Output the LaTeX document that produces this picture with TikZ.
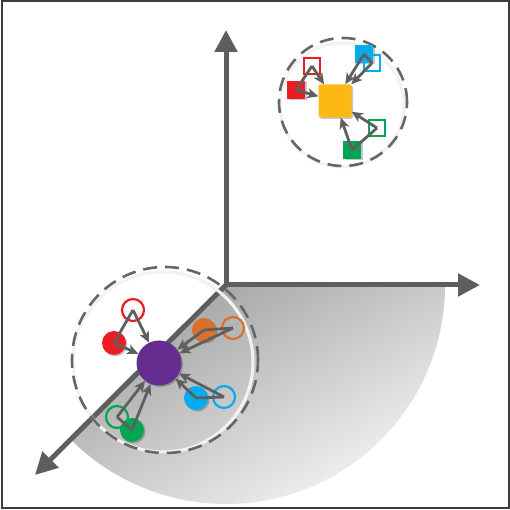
\documentclass[tikz,border=0pt]{standalone}
\usetikzlibrary{arrows.meta,shadows}
\definecolor{axisgray}{HTML}{5E5E5E}
\definecolor{arrgray}{HTML}{5F5F5F}
\definecolor{dashgray}{HTML}{666666}
\definecolor{cred}{HTML}{ED1C24}
\definecolor{cblue}{HTML}{00AEEF}
\definecolor{cgreen}{HTML}{00A651}
\definecolor{corange}{HTML}{D9712B}
\definecolor{cpurple}{HTML}{662D91}
\definecolor{cyellow}{HTML}{FDB913}
\definecolor{framegray}{HTML}{3C3C3C}
\begin{document}
\begin{tikzpicture}[x=1pt,y=1pt,
  axis/.style={line width=5pt, draw=axisgray, -{Triangle[length=22pt,width=22pt]}},
  arr/.style={line width=2.8pt, draw=arrgray, -{Stealth[length=11pt,width=10pt,inset=3pt]}},
  link/.style={line width=2.8pt, draw=arrgray},
  dashcirc/.style={line width=2.6pt, draw=dashgray, dash pattern=on 14pt off 8pt},
  halo/.style={line width=3pt, draw=black!5},
  shd/.style={drop shadow={shadow xshift=1.5pt,shadow yshift=-1.5pt,opacity=0.22,fill=black}},
  fc/.style={circle, inner sep=0pt, minimum size=24pt, shd},
  hc/.style={circle, inner sep=0pt, minimum size=22pt, line width=2.2pt},
  fs/.style={rectangle, inner sep=0pt, minimum size=18pt, shd},
  hs/.style={rectangle, inner sep=0pt, minimum size=16.5pt, line width=2.2pt},
]
\useasboundingbox (0,0) rectangle (510,510);
\fill[white] (0,0) rectangle (510,510);
% shaded sector
\coordinate (O) at (226,225);
\shade[top color=black!37, bottom color=black!4, shading angle=30]
  (O) -- ++(219,0) arc[start angle=0,end angle=-135,radius=219] -- cycle;
% axes
\coordinate (ty) at (226,480);
\coordinate (tx) at (480,225);
\coordinate (tz) at (35,35);
\draw[axis] (O) -- (ty);
\draw[axis] (O) -- (tx);
\draw[axis] (O) -- (tz);
% lower cluster circle
\draw[halo] (163,148) circle[radius=90];
\draw[dashcirc] (165,150) circle[radius=93];
% upper cluster circle
\draw[halo] (342,405) circle[radius=62];
\draw[dashcirc] (343,408) circle[radius=64];
% lower cluster points
\node[fc, fill=cpurple, minimum size=45pt] (p) at (159,147) {};
\node[fc, fill=cred] (rf) at (114,167) {};
\node[hc, draw=cred] (rh) at (133,200) {};
\node[fc, fill=corange] (of) at (204,180) {};
\node[hc, draw=corange] (oh) at (233,182) {};
\node[fc, fill=cblue] (bf) at (196,112) {};
\node[hc, draw=cblue] (bh) at (224,113) {};
\node[hc, draw=cgreen] (gh) at (117,93) {};
\node[fc, fill=cgreen] (gf) at (132,80) {};
% lower links and arrows
\draw[link] (rh.center) -- (rf.center);
\draw[link] (of.center) -- (oh.center);
\draw[link] (bf.center) -- (bh.center);
\draw[link] (gh.center) -- (gf.center);
\draw[arr] (rh.center) -- (p);
\draw[arr] (rf.center) -- (p);
\draw[arr] (of.center) -- (p);
\draw[arr] (oh.center) -- (p);
\draw[arr] (bf.center) -- (p);
\draw[arr] (bh.center) -- (p);
\draw[arr] (gh.center) -- (p);
\draw[arr] (gf.center) -- (p);
% upper cluster points
\node[fs, fill=cyellow, minimum size=33pt, rounded corners=1.5pt] (y) at (335,409) {};
\node[fs, fill=cred] (rfs) at (296,420) {};
\node[hs, draw=cred] (rhs) at (312,444) {};
\node[fs, fill=cblue] (bfs) at (364,456) {};
\node[hs, draw=cblue] (bhs) at (372,447) {};
\node[hs, draw=cgreen] (ghs) at (377,382) {};
\node[fs, fill=cgreen] (gfs) at (352,360) {};
% upper links and arrows
\draw[link] (rhs.center) -- (rfs.center);
\draw[link] (bfs.center) -- (bhs.center);
\draw[link] (gfs.center) -- (ghs.center);
\draw[arr] (rhs.center) -- (y);
\draw[arr] (rfs.center) -- (y);
\draw[arr] (bfs.center) -- (y);
\draw[arr] (bhs.center) -- (y);
\draw[arr] (gfs.center) -- (y);
\draw[arr] (ghs.center) -- (y);
% frame
\draw[line width=2pt, draw=framegray] (1.5,1.5) rectangle (508.5,508.5);
\end{tikzpicture}
\end{document}
